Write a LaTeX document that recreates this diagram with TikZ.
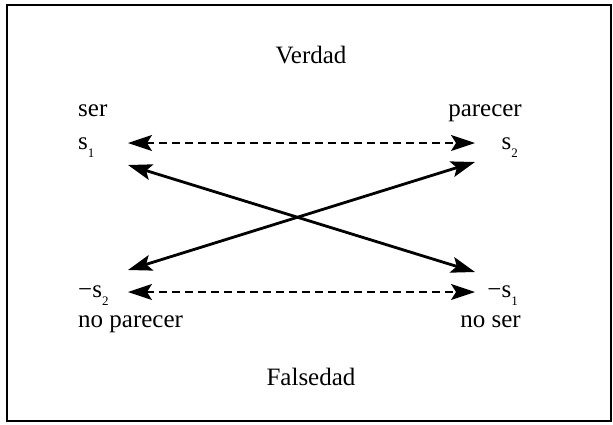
\documentclass[tikz,border=0pt]{standalone}
\usepackage{fontspec}
\setmainfont{Liberation Serif}
\usetikzlibrary{arrows.meta,positioning}
\newcommand{\lowsub}[1]{\raisebox{-0.7ex}{\fontsize{13}{13}\selectfont #1}}
\tikzset{
  word/.style={
    font=\fontsize{25}{30}\selectfont,
    inner sep=0pt
  },
  solid arrow/.style={
    {Stealth[length=24pt,width=16pt,inset=5pt]}-{Stealth[length=24pt,width=16pt,inset=5pt]},
    line width=2.8pt
  },
  dash arrow/.style={
    {Stealth[length=24pt,width=16pt,inset=5pt]}-{Stealth[length=24pt,width=16pt,inset=5pt]},
    line width=1.6pt,
    dash pattern=on 8pt off 5pt
  }
}
\begin{document}
\begin{tikzpicture}[x=1pt,y=-1pt]
  \useasboundingbox (0,0) rectangle (613,424);
  % frame
  \draw[line width=1.6pt] (7,5) rectangle (611,421);

  % titles
  \node[word,anchor=base] (verdad) at (311,63) {Verdad};
  \node[word,anchor=base] (falsedad) at (311,385) {Falsedad};

  % left column
  \node[word,anchor=base west] (ser) at (78,116) {ser};
  \node[word,anchor=base west] (s1) at (78,149) {s\lowsub{1}};
  \node[word,anchor=base west] (ns2) at (78,297) {−s\lowsub{2}};
  \node[word,anchor=base west] (noparecer) at (78,327) {no parecer};

  % right column
  \node[word,anchor=base east] (parecer) at (522,116) {parecer};
  \node[word,anchor=base east] (s2) at (518,149) {s\lowsub{2}};
  \node[word,anchor=base east] (ns1) at (518,297) {−s\lowsub{1}};
  \node[word,anchor=base east] (noser) at (521,327) {no ser};

  % arrow ends
  \coordinate (a1) at (128,143);
  \coordinate (a2) at (475,143);
  \coordinate (b1) at (128,165);
  \coordinate (b2) at (475,272);
  \coordinate (c1) at (128,270);
  \coordinate (c2) at (475,162);
  \coordinate (d1) at (128,292);
  \coordinate (d2) at (475,292);

  \draw[dash arrow] (a1) -- (a2);
  \draw[solid arrow] (b1) -- (b2);
  \draw[solid arrow] (c1) -- (c2);
  \draw[dash arrow] (d1) -- (d2);
\end{tikzpicture}
\end{document}
